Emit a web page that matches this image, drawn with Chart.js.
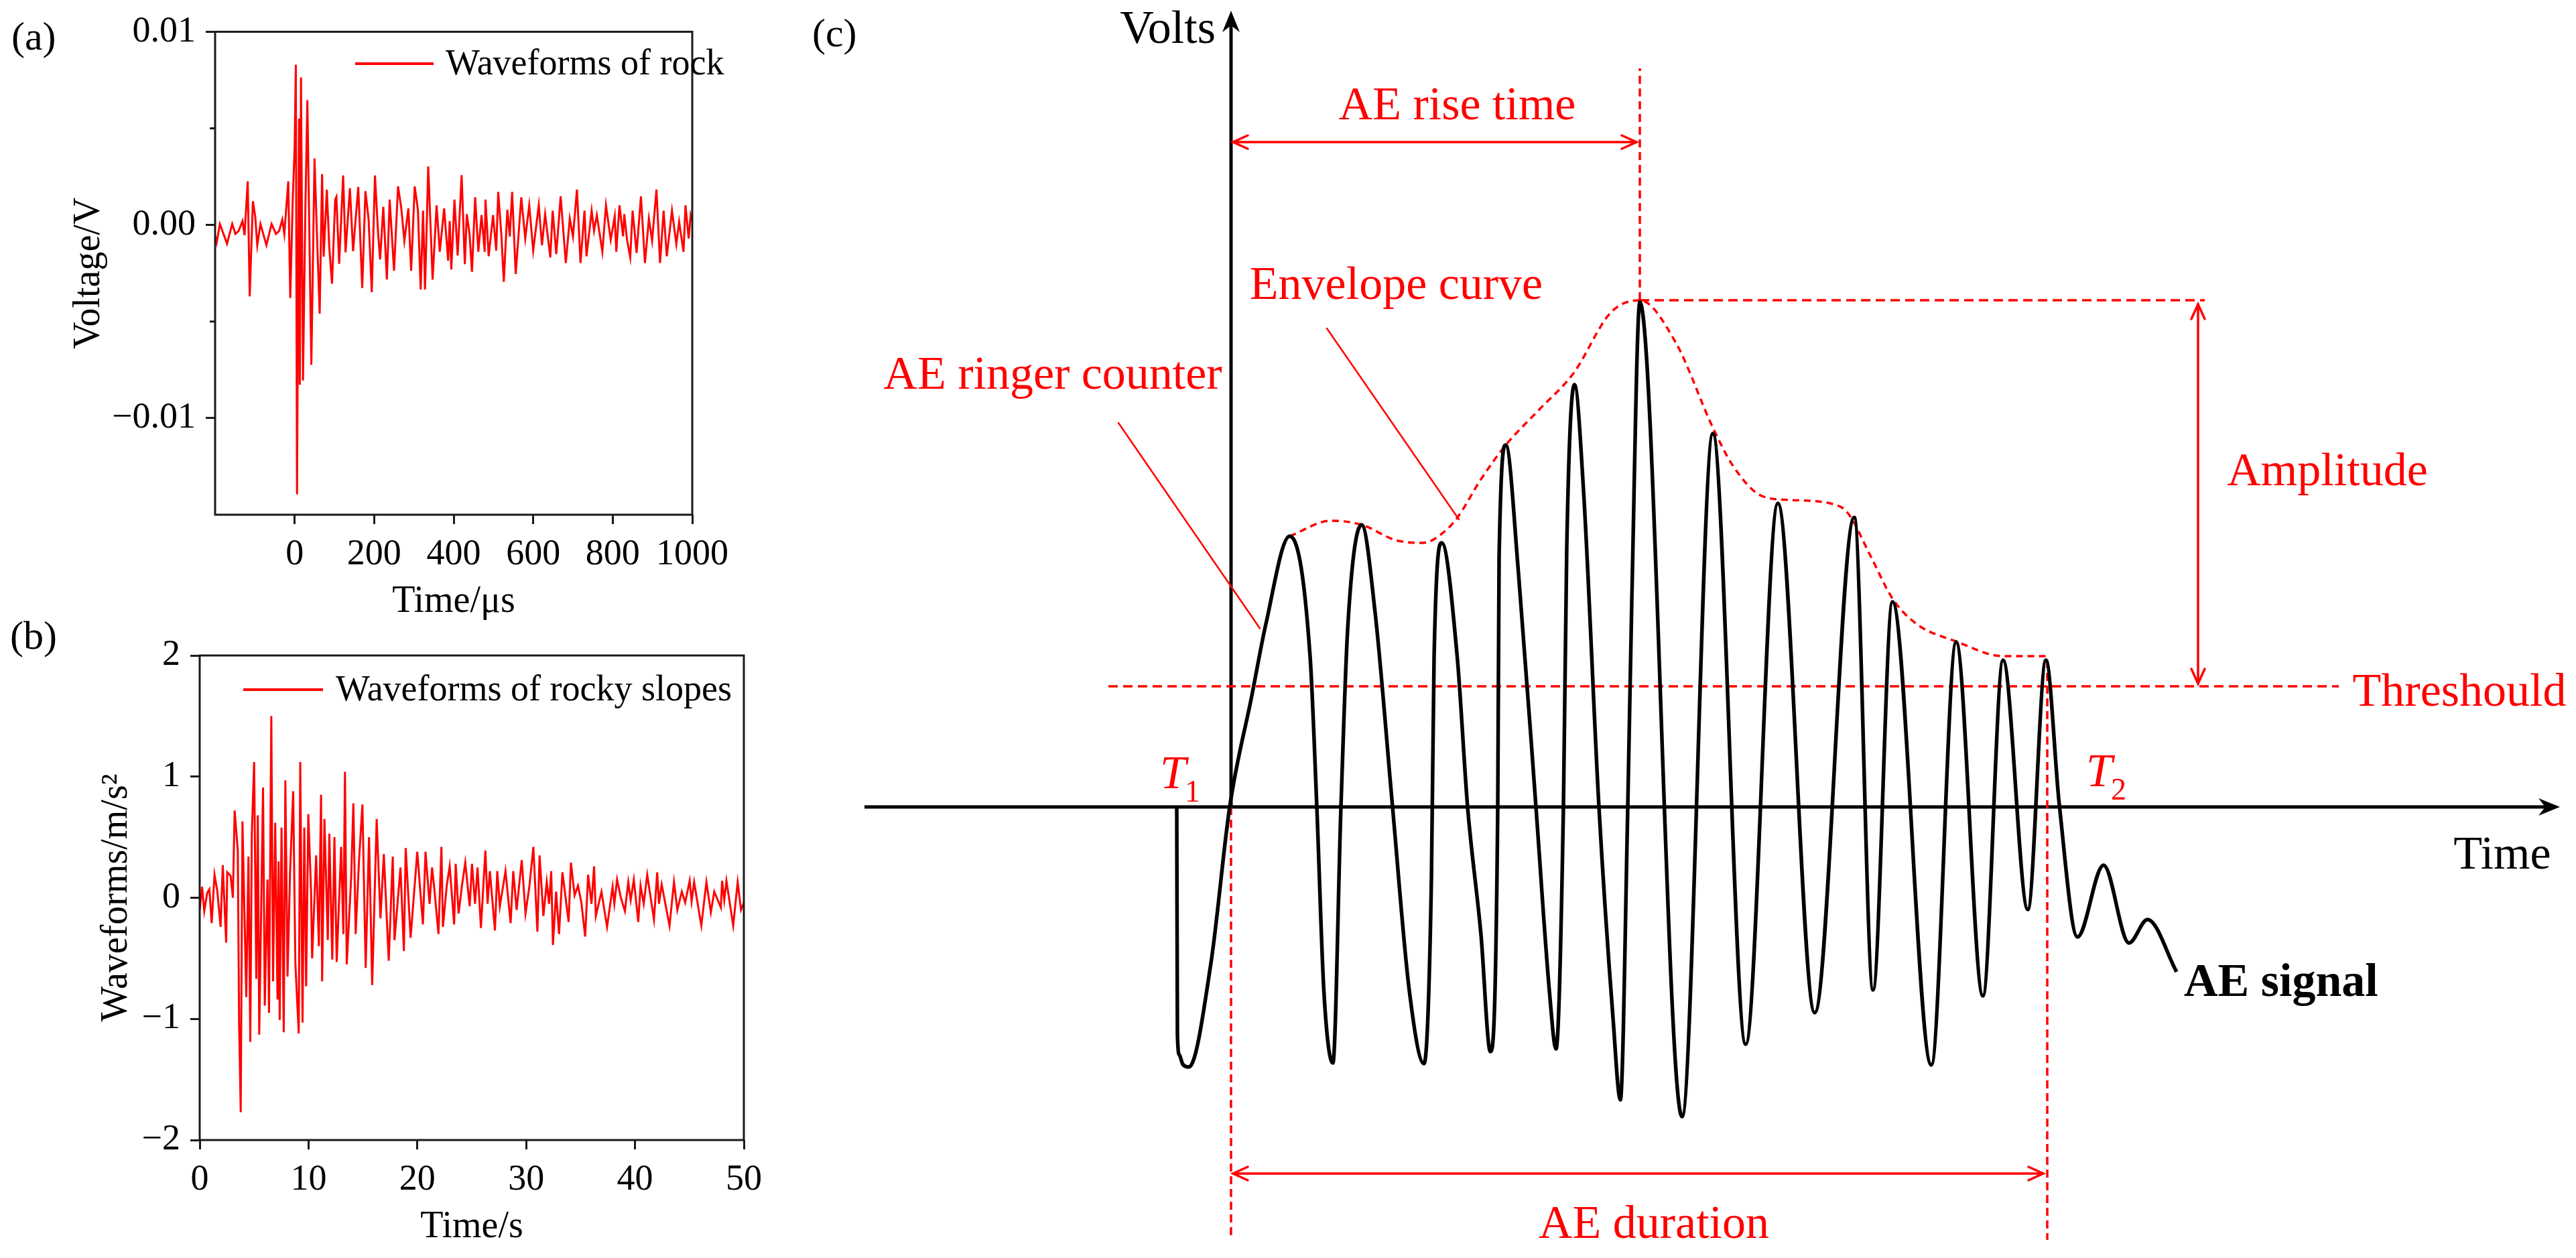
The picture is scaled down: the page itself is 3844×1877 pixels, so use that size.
<!DOCTYPE html>
<html>
<head>
<meta charset="utf-8">
<script src="https://cdn.jsdelivr.net/npm/chart.js@4.4.1/dist/chart.umd.min.js"></script>
<style>
html, body { margin: 0; padding: 0; background: #fff; }
#wrap { position: relative; width: 3844px; height: 1877px; overflow: hidden; background: #fff; }
canvas { position: absolute; }
</style>
</head>
<body>
<div id="wrap">
  <canvas id="ca" width="1100" height="950" style="left:0;top:0"></canvas>
  <canvas id="cb" width="1150" height="977" style="left:0;top:900px"></canvas>
  <canvas id="cc" width="2644" height="1877" style="left:1200px;top:0"></canvas>
</div>
<script>
// ---- (a) waveform of rock, time in us, voltage in V
const timeA = [-199,-196,-188,-170,-157,-149,-141,-131,-126,-118,-113,-105,-99,-94,-86,-71,-58,-47,-39,-31,-26,-16,-11,-5,0,3,6,11,13,16,21,27,32,42,50,57,63,69,73,81,87,94,102,105,112,122,128,139,147,160,170,178,186,194,202,210,215,223,232,239,250,260,268,276,286,293,302,310,317,323,328,336,347,357,365,376,386,390,394,402,410,420,428,433,440,446,454,462,470,478,480,488,499,507,512,520,526,535,541,547,556,570,580,590,600,614,622,630,643,649,658,669,682,692,700,710,719,729,734,747,753,760,774,783,795,805,809,817,826,829,836,844,850,860,871,881,891,899,910,919,928,936,949,960,967,978,983,991,996,1000];
const voltA = [-0.00060,-0.00090,0.00005,-0.00097,0.00005,-0.00046,-0.00031,0.00020,-0.00053,0.00226,-0.00370,0.00123,0.00042,-0.00105,0.00005,-0.00105,0.00005,-0.00046,-0.00031,0.00028,-0.00046,0.00226,-0.00378,0.00116,0.00403,0.00830,-0.01394,0.00550,-0.00827,0.00764,-0.00805,0.00080,0.00646,-0.00724,0.00344,-0.00100,-0.00459,0.00263,-0.00164,0.00182,-0.00112,-0.00304,0.00131,0.00145,-0.00201,0.00256,-0.00142,0.00190,-0.00135,0.00197,-0.00326,0.00175,0.00030,-0.00348,0.00256,-0.00046,-0.00179,0.00094,-0.00282,0.00131,-0.00237,0.00200,0.00091,-0.00082,0.00086,-0.00237,0.00200,0.00079,-0.00334,0.00074,-0.00334,0.00303,-0.00283,0.00102,-0.00139,0.00086,-0.00185,0.00020,-0.00231,0.00131,-0.00158,0.00258,-0.00203,0.00056,-0.00050,-0.00243,0.00143,-0.00139,0.00051,-0.00139,0.00131,-0.00162,0.00051,-0.00133,0.00171,-0.00053,-0.00294,0.00079,-0.00060,0.00171,-0.00254,0.00143,-0.00070,0.00102,-0.00133,0.00102,-0.00105,0.00056,-0.00168,0.00074,-0.00151,0.00148,-0.00197,0.00033,-0.00060,0.00183,-0.00197,0.00074,-0.00162,0.00074,-0.00030,0.00050,-0.00139,0.00102,-0.00077,0.00045,-0.00139,0.00102,-0.00059,0.00056,-0.00077,-0.00168,0.00074,-0.00145,0.00148,-0.00197,0.00033,-0.00082,0.00183,-0.00197,0.00074,-0.00162,0.00074,-0.00099,0.00016,-0.00139,0.00102,-0.00070,0.00051,0.00020];
const aXTicks = [0, 200, 400, 600, 800, 1000];
const aYTicks = [-0.01, 0, 0.01];
const aYMinor = [-0.005, 0.005];

// ---- (b) waveform of rocky slopes, time in s, acceleration in m/s2
const timeB = [0,0.07,0.22,0.42,0.69,0.89,1.10,1.36,1.61,1.92,2.12,2.43,2.53,2.84,3.05,3.21,3.50,3.62,3.77,3.93,4.07,4.28,4.48,4.65,4.79,5.00,5.20,5.34,5.47,5.82,5.98,6.23,6.37,6.58,6.74,6.94,7.15,7.25,7.35,7.52,7.72,7.87,8.07,8.30,8.59,8.79,9.10,9.24,9.45,9.61,9.78,9.98,10.23,10.33,10.70,10.95,11.15,11.25,11.46,11.77,11.91,12.18,12.38,12.59,13.00,13.20,13.35,13.51,13.92,14.12,14.33,14.64,14.95,15.25,15.56,15.85,16.26,16.61,16.92,17.37,17.74,17.90,18.45,18.76,18.93,19.38,19.99,20.51,20.75,21.12,21.35,21.53,21.94,22.21,22.35,22.70,22.97,23.38,23.52,23.79,24.10,24.40,24.81,25.02,25.30,25.53,25.84,26.25,26.45,26.66,27.13,27.34,27.58,28.10,28.57,28.81,29.12,29.59,29.94,30.30,30.66,31.03,31.23,31.58,31.89,32.10,32.30,32.46,32.75,33.02,33.33,33.90,34.11,34.45,34.76,35.07,35.42,35.69,36.00,36.24,36.40,36.92,37.43,37.94,38.10,38.35,38.70,39.07,39.38,39.60,39.89,40.30,40.51,40.80,41.12,41.74,42.04,42.20,42.45,43.17,43.58,43.89,44.30,44.61,45.02,45.20,45.43,46.09,46.56,46.97,47.28,47.89,48.00,48.20,48.40,49.02,49.43,49.74,50.00];
const accB = [0.00,-0.04,0.09,-0.11,0.04,0.07,-0.21,0.19,0.06,-0.24,0.27,-0.37,0.21,0.18,0.00,0.72,0.39,-1.03,-1.77,0.63,0.04,-0.82,0.34,-1.19,0.53,1.12,-0.67,0.68,-1.13,0.91,-0.89,0.15,-0.95,1.50,-0.69,0.62,-0.84,0.30,-1.01,0.58,-1.11,0.97,-0.65,0.20,0.88,-0.54,-1.12,1.12,-1.03,0.58,-0.73,0.69,0.06,-0.50,0.35,-0.40,0.85,-0.69,0.65,-0.35,0.53,-0.51,0.50,-0.53,0.42,-0.30,1.04,-0.55,0.17,0.78,-0.30,0.31,0.77,-0.58,0.50,-0.72,0.65,-0.17,0.36,-0.52,0.34,-0.35,0.25,-0.44,0.41,-0.33,0.38,-0.22,0.38,-0.05,0.25,0.10,-0.30,0.42,-0.24,0.10,0.26,-0.22,0.28,-0.13,0.10,0.29,-0.07,0.28,-0.05,0.25,-0.25,0.39,-0.05,0.22,-0.27,0.22,-0.07,0.22,-0.21,0.22,-0.10,0.31,-0.13,0.10,0.42,-0.28,0.35,-0.15,0.13,-0.05,0.22,-0.39,0.05,-0.30,0.21,-0.20,0.29,0.02,0.10,-0.04,-0.32,0.19,-0.05,0.26,-0.15,0.05,-0.24,0.09,-0.05,0.15,0.00,-0.11,0.13,-0.02,0.15,-0.20,0.10,-0.05,0.19,-0.18,0.21,-0.05,0.11,-0.23,0.13,-0.10,0.05,-0.04,0.14,-0.03,0.13,-0.23,0.13,-0.12,0.05,-0.08,0.14,-0.02,0.14,-0.23,0.13,-0.10,-0.04];
const bXTicks = [0, 10, 20, 30, 40, 50];
const bYTicks = [-2, -1, 0, 1, 2];

// ---- (c) AE signal sketch (arbitrary time / volt units)
const aeTime = [-0.81,-0.80,-0.77,-0.72,-0.63,-0.30,-0.02,0.31,0.52,0.875,1.18,1.28,1.385,1.52,1.64,1.74,1.95,2.15,2.41,2.66,2.88,2.99,3.03,3.145,3.375,3.53,3.73,3.87,3.98,4.00,4.10,4.29,4.55,4.75,4.85,4.96,5.01,5.125,5.26,5.49,5.70,5.81,5.92,5.98,6.10,6.73,7.19,7.68,8.16,8.71,9.30,9.58,9.87,10.45,10.82,11.22,11.52,11.89,12.16,12.36,12.63,13.02,13.40,13.675,14.11];
const aeVolt = [0,-3.40,-3.70,-3.84,-3.88,-2.33,0,1.66,2.73,4.04,2.24,0,-2.74,-3.82,0,2.65,4.21,2.90,0,-2.74,-3.83,-1.08,2.24,3.94,2.24,0,-1.91,-3.65,0,3.73,5.40,3.48,0,-2.74,-3.61,0,3.89,6.30,4.72,0,-3.15,-4.37,0,3.07,7.53,-4.62,5.57,-3.54,4.53,-3.07,4.32,-2.73,3.06,-3.85,2.46,-2.82,2.19,-1.53,2.19,0.03,-1.94,-0.87,-2.03,-1.68,-2.46];
const envTime = [0.875,1.49,1.95,2.46,2.865,3.22,3.40,3.73,4.10,4.60,5.11,5.67,6.10,6.63,7.19,7.49,7.92,8.34,8.94,9.20,9.54,9.87,10.23,10.82,11.52,12.16];
const envVolt = [4.04,4.27,4.21,3.98,3.94,4.14,4.35,4.89,5.40,5.93,6.47,7.38,7.56,6.94,5.66,5.09,4.64,4.58,4.53,4.39,3.75,3.11,2.73,2.47,2.25,2.25];
const T1 = 0, T2 = 12.18;
const peakTime = 6.10, peakAmp = 7.56;
const threshold = 1.80;

const RED = '#ff0000';
const INK = '#1a1a1a';
const SERIF = '"Liberation Serif", "Times New Roman", Times, serif';
Chart.defaults.font.family = SERIF;
Chart.defaults.color = '#000';

function pts(xs, ys) { return xs.map((x, i) => ({ x, y: ys[i] })); }
function minus(v, s) { return (v < 0 ? '\u2212' : '') + s; }

function xAxis(min, max, ticks, height, title, titlePad) {
  return {
    type: 'linear', min, max,
    afterBuildTicks: s => { s.ticks = ticks.map(v => ({ value: v })); },
    afterFit: s => { s.height = height; },
    ticks: { font: { size: 54 }, color: '#000', padding: 13, maxRotation: 0, autoSkip: false, callback: v => String(v) },
    grid: { display: true, drawOnChartArea: false, drawTicks: true, tickLength: 14, tickWidth: 3, tickColor: INK },
    border: { display: false },
    title: { display: true, text: title, font: { size: 56 }, color: '#000', padding: { top: 0, bottom: titlePad } }
  };
}
function yAxis(min, max, ticks, width, title, titlePad, fmt) {
  return {
    type: 'linear', min, max,
    afterBuildTicks: s => { s.ticks = ticks.map(v => ({ value: v })); },
    afterFit: s => { s.width = width; },
    ticks: { font: { size: 54 }, color: '#000', padding: 15, autoSkip: false, callback: fmt },
    grid: { display: true, drawOnChartArea: false, drawTicks: true, tickLength: 14, tickWidth: 3, tickColor: INK },
    border: { display: false },
    title: { display: true, text: title, font: { size: 56 }, color: '#000', padding: { top: titlePad, bottom: 0 } }
  };
}

// frame, minor ticks, legend and panel letter for (a) and (b)
function panelDeco(o) {
  return {
    id: 'deco',
    afterDraw(chart) {
      const { ctx, chartArea: a, scales } = chart;
      ctx.save();
      ctx.strokeStyle = INK; ctx.lineWidth = 3;
      ctx.strokeRect(a.left, a.top, a.right - a.left, a.bottom - a.top);
      (o.minorY || []).forEach(v => {
        const y = scales.y.getPixelForValue(v);
        ctx.beginPath(); ctx.moveTo(a.left, y); ctx.lineTo(a.left - 8, y); ctx.stroke();
      });
      ctx.strokeStyle = RED; ctx.lineWidth = 4;
      ctx.beginPath(); ctx.moveTo(o.lg[0], o.lg[2]); ctx.lineTo(o.lg[1], o.lg[2]); ctx.stroke();
      ctx.fillStyle = '#000'; ctx.textBaseline = 'middle'; ctx.textAlign = 'left';
      ctx.font = '54px ' + SERIF;
      ctx.fillText(chart.data.datasets[0].label, o.lg[3], o.lg[4]);
      ctx.font = '60px ' + SERIF;
      ctx.fillText(o.letter, o.letterAt[0], o.letterAt[1]);
      ctx.restore();
    }
  };
}

function waveDataset(label, xs, ys) {
  return { label, data: pts(xs, ys), showLine: true, borderColor: RED, borderWidth: 3, pointRadius: 0, tension: 0 };
}

const baseOpts = {
  responsive: false, animation: false, devicePixelRatio: 1,
  plugins: { legend: { display: false }, tooltip: { enabled: false } }
};

new Chart(document.getElementById('ca'), {
  type: 'scatter',
  data: { datasets: [waveDataset('Waveforms of rock', timeA, voltA)] },
  options: Object.assign({}, baseOpts, {
    layout: { padding: { left: 0, top: 44, right: 16, bottom: 0 } },
    scales: {
      x: xAxis(-200, 1000, aXTicks, 182, 'Time/\u03bcs', 18),
      y: yAxis(-0.015, 0.01, aYTicks, 321, 'Voltage/V', 100,
        v => v === 0 ? '0.00' : minus(v, Math.abs(v).toFixed(2)))
    }
  }),
  plugins: [panelDeco({ minorY: aYMinor, lg: [530, 647, 95, 665, 97], letter: '(a)', letterAt: [17, 58] })]
});

new Chart(document.getElementById('cb'), {
  type: 'scatter',
  data: { datasets: [waveDataset('Waveforms of rocky slopes', timeB, accB)] },
  options: Object.assign({}, baseOpts, {
    layout: { padding: { left: 0, top: 78, right: 39, bottom: 0 } },
    scales: {
      x: xAxis(0, 50, bXTicks, 176, 'Time/s', 12),
      y: yAxis(-2, 2, bYTicks, 298, 'Waveforms/m/s\u00b2', 141, v => minus(v, String(Math.abs(v))))
    }
  }),
  plugins: [panelDeco({ lg: [363, 482, 129, 501, 131], letter: '(b)', letterAt: [15, 52] })]
});

// ---- (c) helpers
function stealth(ctx, tx, ty, ang) {
  const L = 32, H = 13, N = 22, c = Math.cos(ang), s = Math.sin(ang);
  const p = (u, w) => [tx + u * c - w * s, ty + u * s + w * c];
  ctx.beginPath();
  ctx.moveTo(...p(0, 0)); ctx.lineTo(...p(-L, -H)); ctx.lineTo(...p(-N, 0)); ctx.lineTo(...p(-L, H));
  ctx.closePath(); ctx.fill();
}
function chevron(ctx, tx, ty, ang) {
  const L = 22, H = 10, c = Math.cos(ang), s = Math.sin(ang);
  const p = (u, w) => [tx + u * c - w * s, ty + u * s + w * c];
  ctx.beginPath(); ctx.moveTo(...p(-L, -H)); ctx.lineTo(...p(0, 0)); ctx.lineTo(...p(-L, H)); ctx.stroke();
}
function dblArrow(ctx, x0, y0, x1, y1) {
  ctx.beginPath(); ctx.moveTo(x0, y0); ctx.lineTo(x1, y1); ctx.stroke();
  const ang = Math.atan2(y1 - y0, x1 - x0);
  chevron(ctx, x1, y1, ang); chevron(ctx, x0, y0, ang + Math.PI);
}

const aeSketch = {
  id: 'aeSketch',
  beforeDatasetsDraw(chart) {
    const { ctx, scales: { x, y } } = chart;
    const X = v => x.getPixelForValue(v), Y = v => y.getPixelForValue(v);
    ctx.save();
    ctx.strokeStyle = '#000'; ctx.fillStyle = '#000'; ctx.lineWidth = 5;
    ctx.beginPath(); ctx.moveTo(X(x.min), Y(0)); ctx.lineTo(X(x.max) - 20, Y(0)); ctx.stroke();
    stealth(ctx, X(x.max), Y(0), 0);
    ctx.beginPath(); ctx.moveTo(X(T1), Y(0)); ctx.lineTo(X(T1), Y(y.max) + 20); ctx.stroke();
    stealth(ctx, X(T1), Y(y.max), -Math.PI / 2);
    ctx.restore();
  },
  afterDatasetsDraw(chart) {
    const { ctx, scales: { x, y } } = chart;
    const X = v => x.getPixelForValue(v), Y = v => y.getPixelForValue(v);
    ctx.save();
    ctx.strokeStyle = RED; ctx.fillStyle = RED; ctx.lineWidth = 3.5; ctx.lineCap = 'round';
    dblArrow(ctx, X(T1 + 0.03), Y(9.92), X(peakTime - 0.05), Y(9.92));
    dblArrow(ctx, X(14.43), Y(peakAmp - 0.06), X(14.43), Y(threshold + 0.04));
    dblArrow(ctx, X(T1 + 0.03), Y(-5.47), X(T2 - 0.06), Y(-5.47));
    ctx.lineWidth = 2.5;
    ctx.beginPath(); ctx.moveTo(X(-1.68), Y(5.73)); ctx.lineTo(X(0.43), Y(2.665)); ctx.stroke();
    ctx.beginPath(); ctx.moveTo(X(1.43), Y(7.14)); ctx.lineTo(X(3.40), Y(4.29)); ctx.stroke();

    const txt = (s, px, py, align, font, color) => {
      ctx.font = font; ctx.fillStyle = color; ctx.textAlign = align; ctx.textBaseline = 'middle';
      ctx.fillText(s, px, py);
    };
    const F = '70px ' + SERIF;
    txt('AE rise time', X(3.375), Y(10.44), 'center', F, RED);
    txt('Envelope curve', X(2.465), Y(7.76), 'center', F, RED);
    txt('AE ringer counter', X(-2.66), Y(6.42), 'center', F, RED);
    txt('Amplitude', X(16.36), Y(4.98), 'center', F, RED);
    txt('Threshould', X(18.33), Y(1.695), 'center', F, RED);
    txt('AE duration', X(6.31), Y(-6.25), 'center', F, RED);
    txt('Volts', X(-0.23), Y(11.58), 'right', F, '#000');
    txt('Time', X(18.97), Y(-0.74), 'center', F, '#000');
    txt('AE signal', X(14.22), Y(-2.64), 'left', 'bold 70px ' + SERIF, '#000');

    // T1 / T2 with subscripts
    const sub = (n, px, py) => {
      ctx.fillStyle = RED; ctx.textAlign = 'left'; ctx.textBaseline = 'alphabetic';
      ctx.font = 'italic 70px ' + SERIF; ctx.fillText('T', px, py);
      const w = ctx.measureText('T').width;
      ctx.font = '46px ' + SERIF; ctx.fillText(n, px + w - 2, py + 20);
    };
    sub('1', X(-1.06), Y(0.28));
    sub('2', X(12.76), Y(0.31));

    ctx.font = '60px ' + SERIF; ctx.fillStyle = '#000'; ctx.textAlign = 'left'; ctx.textBaseline = 'middle';
    ctx.fillText('(c)', 12, 53);
    ctx.restore();
  }
};

const dashLine = (data, dash) => ({ data, showLine: true, borderColor: RED, borderWidth: 3.5, borderDash: dash, pointRadius: 0, tension: 0 });

new Chart(document.getElementById('cc'), {
  type: 'scatter',
  data: {
    datasets: [
      { label: 'AE signal', data: pts(aeTime, aeVolt), showLine: true, borderColor: '#000', borderWidth: 5.5, pointRadius: 0, cubicInterpolationMode: 'monotone' },
      { label: 'Envelope curve', data: pts(envTime, envVolt), showLine: true, borderColor: RED, borderWidth: 3.5, borderDash: [10, 7], pointRadius: 0, cubicInterpolationMode: 'monotone' },
      dashLine([{ x: -1.83, y: threshold }, { x: 16.53, y: threshold }], [14, 8]),
      dashLine([{ x: peakTime, y: peakAmp }, { x: 14.53, y: peakAmp }], [14, 8]),
      dashLine([{ x: peakTime, y: peakAmp }, { x: peakTime, y: 11.02 }], [12, 7]),
      dashLine([{ x: T1, y: 0 }, { x: T1, y: -6.41 }], [12, 7]),
      dashLine([{ x: T2, y: 2.19 }, { x: T2, y: -6.46 }], [12, 7])
    ]
  },
  options: Object.assign({}, baseOpts, {
    layout: { padding: { left: 90, top: 16, right: 24, bottom: 7 } },
    scales: {
      x: { type: 'linear', display: false, min: -5.47, max: 19.83 },
      y: { type: 'linear', display: false, min: -6.66, max: 11.88 }
    }
  }),
  plugins: [aeSketch]
});
</script>
</body>
</html>
